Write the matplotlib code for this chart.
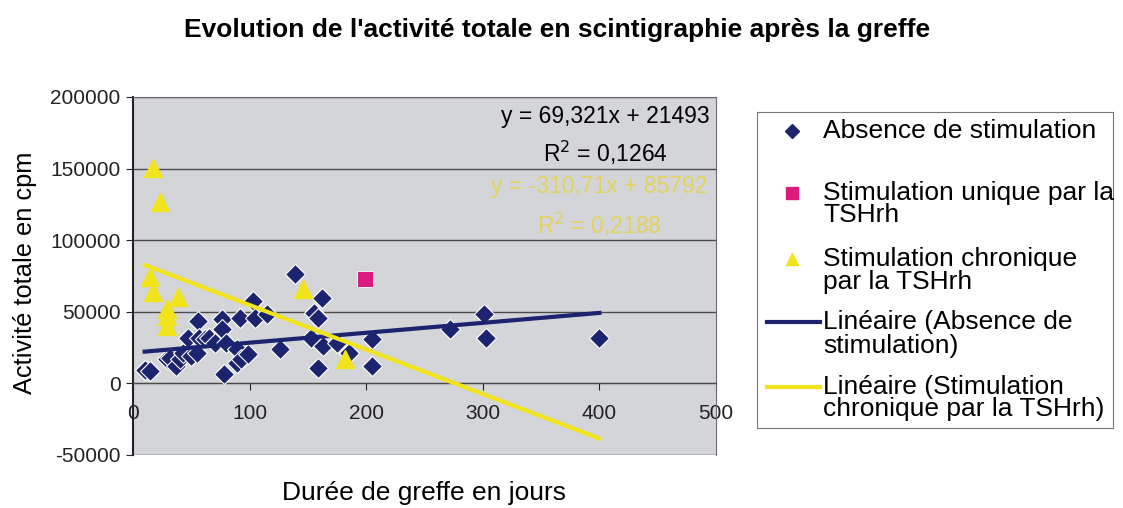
import matplotlib.pyplot as plt
from matplotlib.lines import Line2D

plt.rcParams['font.family'] = ['Liberation Sans', 'DejaVu Sans']
plt.rcParams['axes.unicode_minus'] = False

# Absence de stimulation
blue_x = [10, 15, 29, 32, 37, 40, 43, 47, 50, 55, 56, 57, 62, 65, 70, 76, 76, 78, 80, 89,
          89, 92, 93, 99, 103, 105, 115, 126, 139, 153, 155, 159, 159, 162, 163, 175, 185,
          205, 205, 272, 301, 303, 400]
blue_y = [9500, 8600, 16800, 17900, 12100, 16800, 21400, 31900, 19100, 21400, 43500, 32000,
          30700, 31900, 28400, 44700, 37700, 6300, 28400, 14400, 23700, 45900, 16800, 20200,
          57500, 45900, 48200, 23700, 76100, 31900, 49400, 46000, 11000, 59800, 26000, 28400,
          21400, 30700, 12100, 37700, 48200, 31900, 31900]
# Stimulation unique par la TSHrh
pink_x = [199]
pink_y = [72600]
# Stimulation chronique par la TSHrh
yellow_x = [17, 23, 15, 17, 39, 29, 29, 29, 146, 182]
yellow_y = [150600, 127000, 74000, 63500, 60000, 51700, 47000, 40000, 65600, 16800]

# trend lines (from the equations shown on the chart)
trend_x = [10, 400]
blue_slope, blue_icpt = 69.321, 21493
yellow_slope, yellow_icpt = -310.71, 85792

navy = '#1c2470'
yellow = '#f2e41c'
pink = '#d81b7c'

fig = plt.figure(figsize=(11.23, 5.08), dpi=100)
ax = fig.add_axes([133 / 1123, 1 - 455 / 508, 583 / 1123, 358 / 508])
ax.set_facecolor('#d3d5d8')

ax.plot(blue_x, blue_y, 'D', color=navy, markersize=10, markeredgecolor='white',
        markeredgewidth=0.8, zorder=3)
ax.plot(pink_x, pink_y, 's', color=pink, markersize=12, markeredgecolor='white',
        markeredgewidth=0.6, zorder=3)
ax.plot(yellow_x, yellow_y, '^', color=yellow, markersize=13, zorder=3)

ax.plot(trend_x, [blue_slope * x + blue_icpt for x in trend_x], color=navy, lw=3, zorder=4)
ax.plot(trend_x, [yellow_slope * x + yellow_icpt for x in trend_x], color=yellow, lw=3,
        zorder=4)

ax.set_xlim(0, 500)
ax.set_ylim(-50000, 200000)
ax.set_yticks([-50000, 0, 50000, 100000, 150000, 200000])
ax.set_xticks([0, 100, 200, 300, 400, 500])
ax.grid(axis='y', color='#4a4a4a', lw=1)
ax.set_axisbelow(True)

ax.spines['bottom'].set_position(('data', 0))
ax.spines['bottom'].set_color('#4a4a4a')
ax.spines['left'].set_color('#222222')
ax.spines['left'].set_linewidth(1.5)
ax.spines['right'].set_color('#6a6a6a')
ax.spines['top'].set_color('#6a6a6a')
ax.tick_params(axis='y', labelsize=15, length=5, pad=4, colors='#222222')
ax.tick_params(axis='x', labelsize=15, length=5, pad=10, colors='#222222')

eq_size = 16.5
ax.text(405, 186400, 'y = 69,321x + 21493', fontsize=eq_size, ha='center', va='center')
ax.text(405, 161300, 'R$^2$ = 0,1264', fontsize=eq_size, ha='center', va='center')
ax.text(400, 137600, 'y = -310,71x + 85792', fontsize=eq_size, ha='center', va='center',
        color='#e3d35c')
ax.text(400, 111000, 'R$^2$ = 0,2188', fontsize=eq_size, ha='center', va='center',
        color='#e3d35c')

fig.text(557 / 1123, 1 - 30 / 508, "Evolution de l'activité totale en scintigraphie après la greffe",
         fontsize=19, fontweight='bold', ha='center', va='center')
fig.text(424 / 1123, 1 - 493 / 508, 'Durée de greffe en jours', fontsize=19,
         ha='center', va='center')
fig.text(25 / 1123, 1 - 273 / 508, 'Activité totale en cpm', fontsize=18.3,
         rotation=90, ha='center', va='center')

# legend
lg = fig.add_axes([757 / 1123, 1 - 428 / 508, 356 / 1123, 316 / 508])
lg.set_xlim(0, 356)
lg.set_ylim(316, 0)
lg.set_xticks([])
lg.set_yticks([])
for s in lg.spines.values():
    s.set_color('#777777')
tx = 66
fs = 19
lg.plot([35], [19], 'D', color=navy, markersize=7)
lg.text(tx, 19, 'Absence de stimulation', fontsize=fs, va='center')
lg.plot([35], [81], 's', color=pink, markersize=8)
lg.text(tx, 81, 'Stimulation unique par la', fontsize=fs, va='center')
lg.text(tx, 103, 'TSHrh', fontsize=fs, va='center')
lg.plot([35], [147], '^', color=yellow, markersize=9)
lg.text(tx, 147, 'Stimulation chronique', fontsize=fs, va='center')
lg.text(tx, 170, 'par la TSHrh', fontsize=fs, va='center')
lg.add_line(Line2D([10, 63], [210, 210], color=navy, lw=3))
lg.text(tx, 210, 'Linéaire (Absence de', fontsize=fs, va='center')
lg.text(tx, 234, 'stimulation)', fontsize=fs, va='center')
lg.add_line(Line2D([10, 63], [275, 275], color=yellow, lw=3))
lg.text(tx, 275, 'Linéaire (Stimulation', fontsize=fs, va='center')
lg.text(tx, 297, 'chronique par la TSHrh)', fontsize=fs, va='center')

fig.savefig('out.png', dpi=100)
